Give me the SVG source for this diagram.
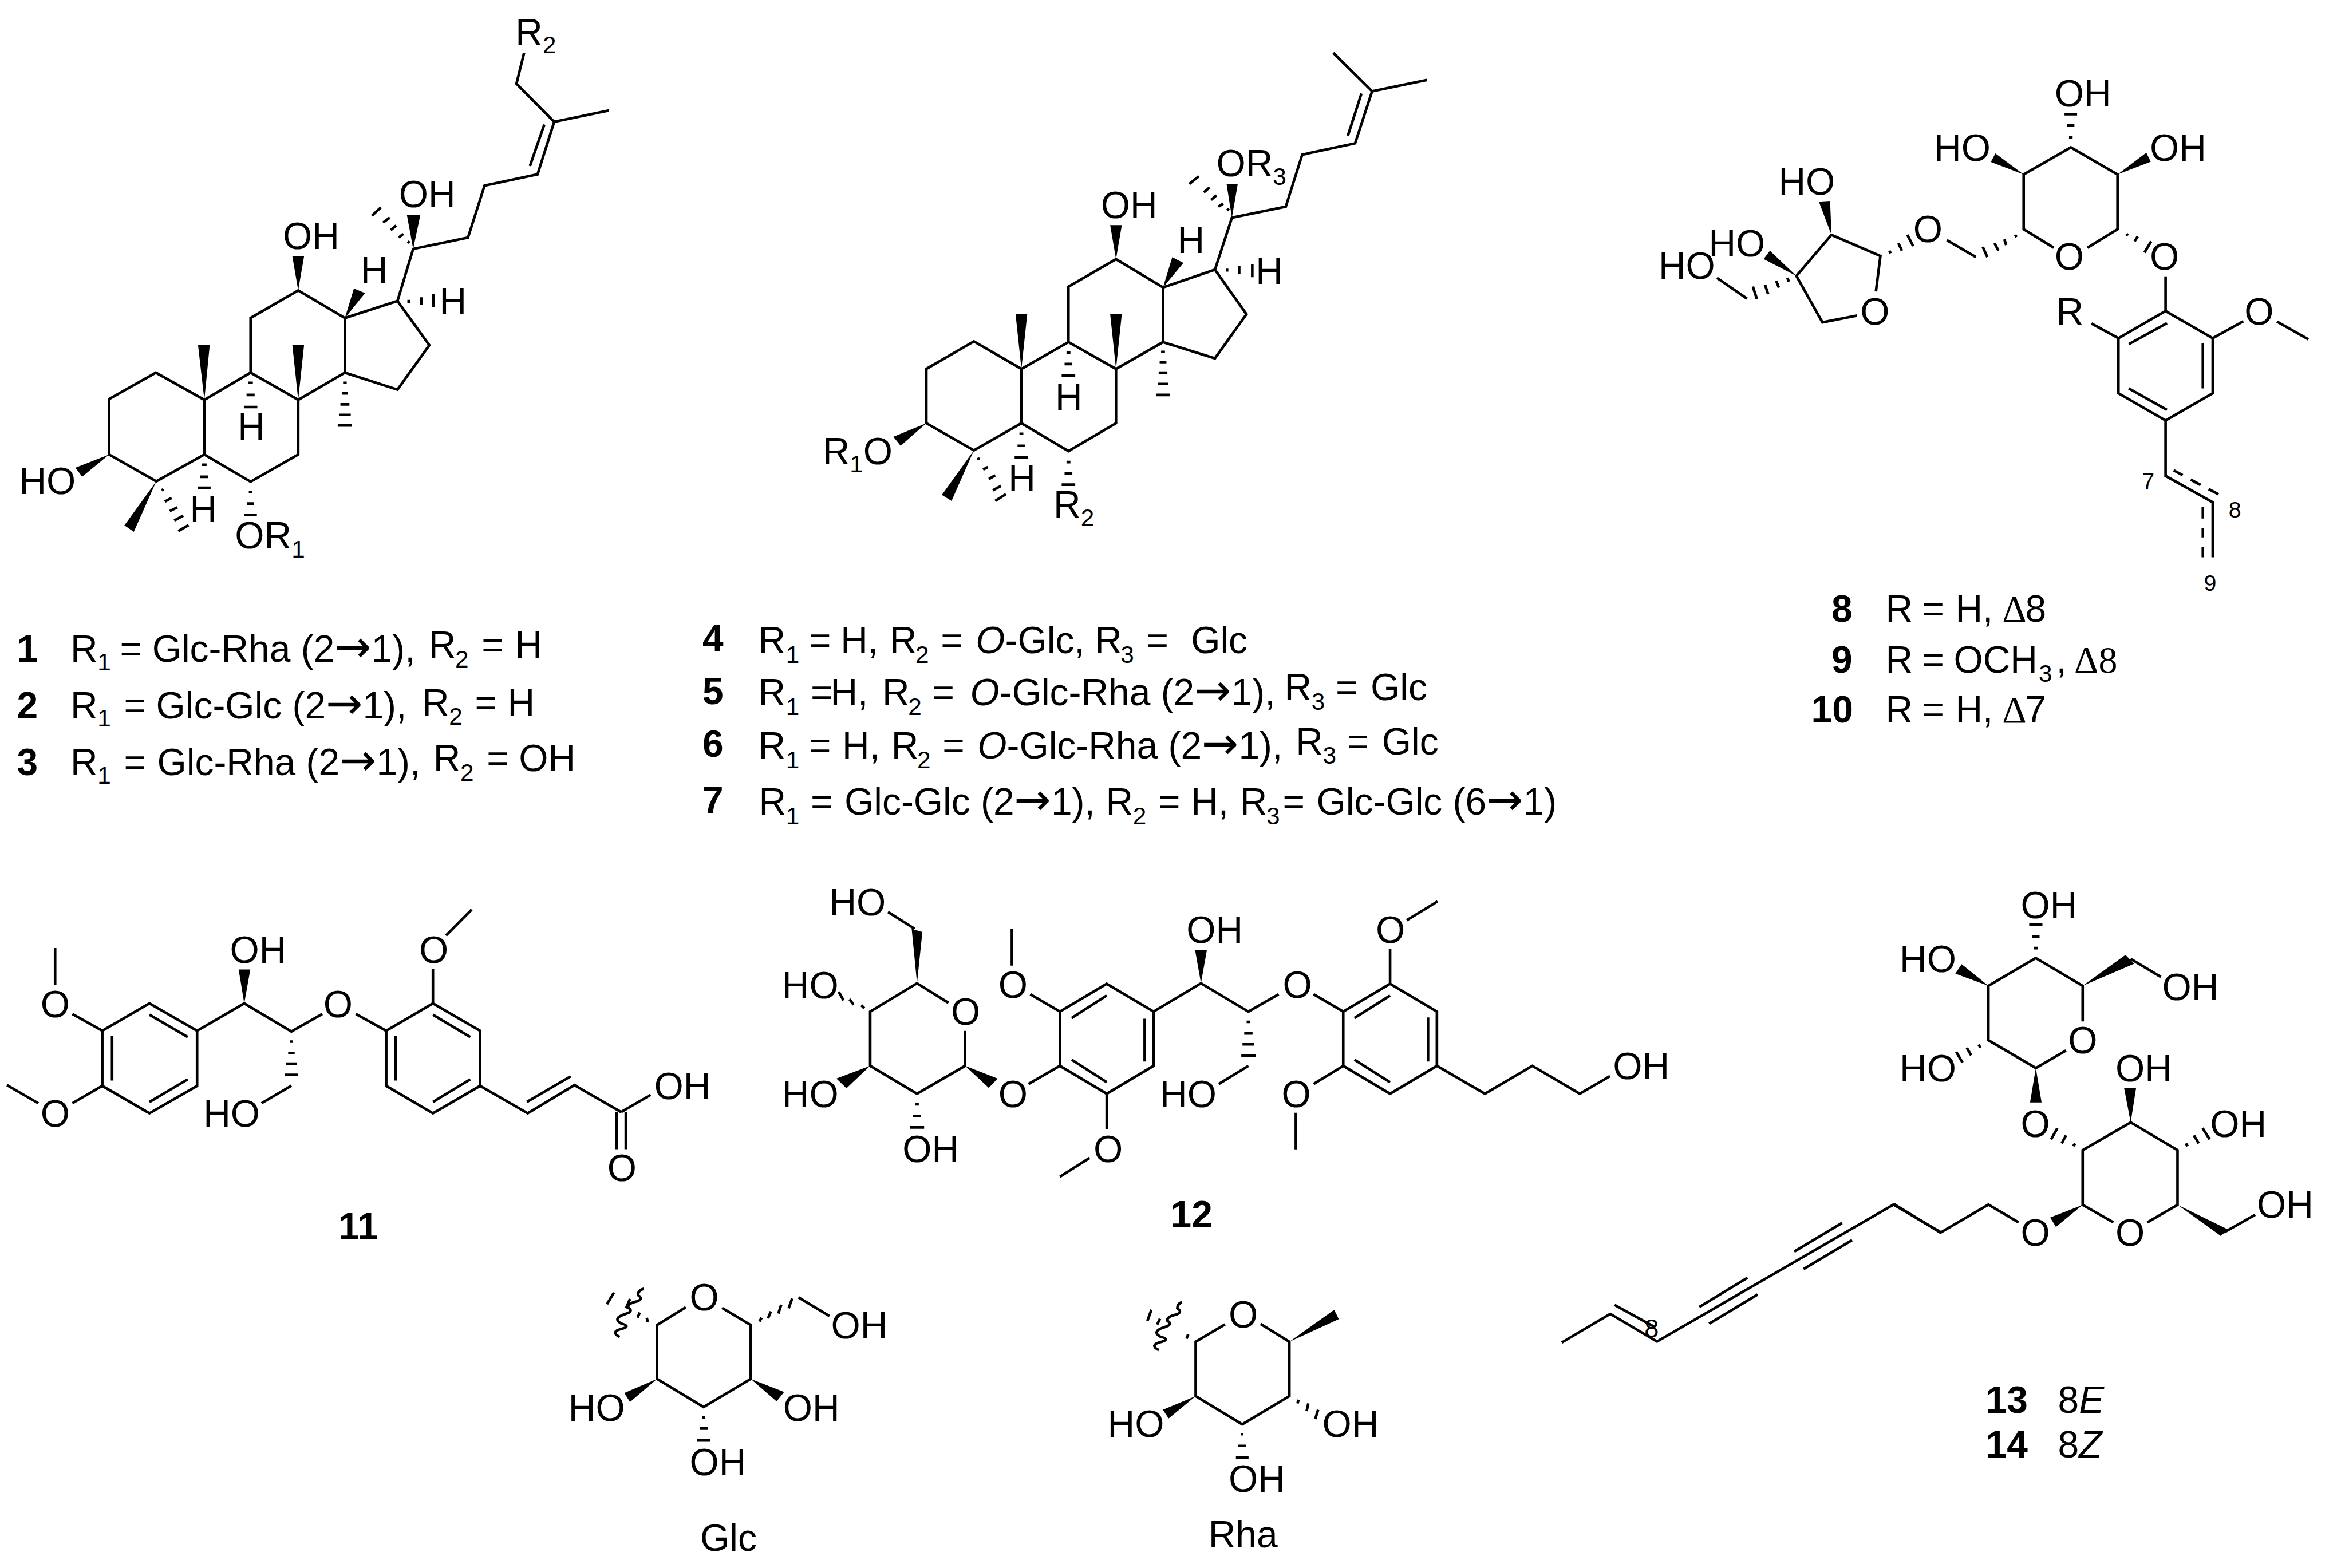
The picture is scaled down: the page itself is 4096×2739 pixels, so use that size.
<svg xmlns="http://www.w3.org/2000/svg" width="4096" height="2739" viewBox="0 0 4096 2739">
<style>
text{font-family:"Liberation Sans",Arial,sans-serif;font-size:67px;fill:#000}
.s{font-size:43px}
.n{font-size:40px}
.m{font-size:46px}
.b{font-weight:bold}
.i{font-style:italic}
.d{font-family:"Liberation Serif","Times New Roman",serif}
.a{font-family:"DejaVu Sans",sans-serif;font-size:78px}
path{fill:none;stroke:#000;stroke-width:4.6;vector-effect:non-scaling-stroke;stroke-linejoin:miter}
polygon{fill:#000;stroke:none}
</style>
<rect width="4096" height="2739" fill="#fff"/>
<g transform="scale(.984)">

<g id="compound-1-3">
<g transform="translate(0 0) scale(.7972 .6696)">
<path d="M243 1205V1058L347 988L455 1060V1205L348 1276ZM455 1205L558 1277L664 1205V1060L558 988L455 1060M558 988V843L664 770L768 843V988L664 1060M768 843L885 798L956 915L885 1033L768 988M885 798L920 660L1042 630L1079 492L1197 462L1234 323L1356 293M1180 440L1212 330M1234 323L1150 222L1167 140"/>
<polygon points="455,1060 441,915 467,915"/><polygon points="664,1060 651,915 677,915"/><polygon points="664,770 651,680 677,680"/><polygon points="768,843 788,765 813,777"/><polygon points="920,660 906,570 936,570"/><polygon points="243,1205 168,1240 183,1264"/><polygon points="348,1276 277,1393 298,1410"/>
<path d="M553 1015h10M549 1047h18M543 1079h30M764 1015h8M761 1043h14M758 1072h20M755 1100h26M752 1128h32M450 1232h10M446 1264h18M441 1293h28M554 1304h8M550 1335h16M544 1365h28M360 1300L364 1297M367 1330L382 1320M378 1355L395 1345M388 1380L408 1367M397 1408L420 1392M908 640L912 644M888 630L898 620M870 610L882 598M853 590L868 577M828 572L848 550M910 795V803M938 788V808M965 780V815"/>
</g>
<text x="915" y="80">R<tspan class="s" dy="15">2</tspan></text>
<text x="708" y="368">OH</text><text x="502" y="442">OH</text><text x="640" y="503">H</text><text x="780" y="558">H</text><text x="422" y="780">H</text><text x="34" y="877">HO</text><text x="337" y="927">H</text>
<text x="417" y="974">OR<tspan class="s" dy="16">1</tspan></text>
<text><tspan class="b" x="30" y="1175">1</tspan><tspan x="125">R</tspan><tspan class="s" x="173" y="1190">1</tspan><tspan x="213" y="1175">=</tspan><tspan x="270">Glc-Rha (2<tspan class="a">→</tspan>1),</tspan><tspan x="761" y="1168">R</tspan><tspan class="s" x="808" y="1185">2</tspan><tspan x="855" y="1168">=</tspan><tspan x="914">H</tspan></text>
<text><tspan class="b" x="30" y="1275">2</tspan><tspan x="125">R</tspan><tspan class="s" x="173" y="1290">1</tspan><tspan x="220" y="1275">=</tspan><tspan x="277">Glc-Glc (2<tspan class="a">→</tspan>1),</tspan><tspan x="749" y="1270">R</tspan><tspan class="s" x="797" y="1287">2</tspan><tspan x="843" y="1270">=</tspan><tspan x="901">H</tspan></text>
<text><tspan class="b" x="30" y="1376">3</tspan><tspan x="125">R</tspan><tspan class="s" x="173" y="1391">1</tspan><tspan x="220" y="1376">=</tspan><tspan x="279">Glc-Rha (2<tspan class="a">→</tspan>1),</tspan><tspan x="769" y="1369">R</tspan><tspan class="s" x="817" y="1386">2</tspan><tspan x="864" y="1369">=</tspan><tspan x="921">OH</tspan></text>
</g>

<g id="compound-4-7">
<g transform="translate(1250 0) scale(.861 .6696)">
<path d="M458 1122V978L556 905L654 978V1122L556 1194ZM654 1122L751 1196L849 1122V978L751 907L654 978M751 907V760L849 687L946 762V907L849 978M946 762L1053 715L1118 833L1053 950L946 907M1053 715L1088 577L1199 548L1233 410L1342 380L1377 242L1490 212M1327 360L1355 248M1377 242L1297 140"/>
<polygon points="654,978 642,833 666,833"/><polygon points="849,978 837,833 861,833"/><polygon points="849,687 837,597 861,597"/><polygon points="946,762 965,682 988,697"/><polygon points="1088,577 1077,488 1100,488"/><polygon points="458,1122 390,1158 405,1182"/><polygon points="556,1194 490,1312 510,1328"/>
<path d="M747 935h8M743 965h16M737 995h28M942 933h8M939 960h14M937 988h18M935 1018h22M932 1047h28M650 1150h8M646 1182h16M640 1213h28M747 1225h8M743 1255h16M737 1285h28M563 1218L568 1215M575 1245L585 1238M587 1270L600 1260M595 1300L612 1288M600 1328L622 1310M1078 558L1082 553M1060 548L1070 540M1045 530L1056 518M1030 510L1042 497M1000 488L1020 467M1078 712V720M1103 705V727M1130 700V735"/>
</g>
<text x="2159" y="313">OR<tspan class="s" dy="15">3</tspan></text>
<text x="1954" y="387">OH</text><text x="2090" y="449">H</text><text x="2229" y="504">H</text><text x="1873" y="728">H</text>
<text x="1460" y="824">R<tspan class="s" dy="14">1</tspan><tspan dy="-14">O</tspan></text>
<text x="1790" y="872">H</text>
<text x="1870" y="919">R<tspan class="s" dy="15">2</tspan></text>
<text><tspan class="b" x="1247" y="1157">4</tspan><tspan x="1346" y="1160">R</tspan><tspan class="s" x="1395" y="1177">1</tspan><tspan x="1436" y="1160">=</tspan><tspan x="1492">H,</tspan><tspan x="1579">R</tspan><tspan class="s" x="1625" y="1177">2</tspan><tspan x="1670" y="1160">=</tspan><tspan class="i" x="1732">O</tspan><tspan>-Glc,</tspan><tspan x="1943">R</tspan><tspan class="s" x="1989" y="1177">3</tspan><tspan x="2035" y="1160">=</tspan><tspan x="2114">Glc</tspan></text>
<text><tspan class="b" x="1247" y="1250">5</tspan><tspan x="1346" y="1252">R</tspan><tspan class="s" x="1395" y="1269">1</tspan><tspan x="1439" y="1252">=</tspan><tspan x="1474">H,</tspan><tspan x="1566">R</tspan><tspan class="s" x="1612" y="1269">2</tspan><tspan x="1655" y="1252">=</tspan><tspan class="i" x="1722">O</tspan><tspan>-Glc-Rha (2<tspan class="a">→</tspan>1),</tspan><tspan x="2280" y="1243">R</tspan><tspan class="s" x="2328" y="1260">3</tspan><tspan x="2371" y="1243">=</tspan><tspan x="2433">Glc</tspan></text>
<text><tspan class="b" x="1247" y="1344">6</tspan><tspan x="1346" y="1347">R</tspan><tspan class="s" x="1395" y="1364">1</tspan><tspan x="1436" y="1347">=</tspan><tspan x="1495">H,</tspan><tspan x="1582">R</tspan><tspan class="s" x="1628" y="1364">2</tspan><tspan x="1673" y="1347">=</tspan><tspan class="i" x="1735">O</tspan><tspan>-Glc-Rha (2<tspan class="a">→</tspan>1),</tspan><tspan x="2300" y="1339">R</tspan><tspan class="s" x="2348" y="1356">3</tspan><tspan x="2391" y="1339">=</tspan><tspan x="2453">Glc</tspan></text>
<text><tspan class="b" x="1247" y="1443">7</tspan><tspan x="1347" y="1446">R</tspan><tspan class="s" x="1395" y="1463">1</tspan><tspan x="1439" y="1446">=</tspan><tspan x="1499">Glc-Glc (2<tspan class="a">→</tspan>1),</tspan><tspan x="1963">R</tspan><tspan class="s" x="2011" y="1463">2</tspan><tspan x="2056" y="1446">=</tspan><tspan x="2114">H,</tspan><tspan x="2201">R</tspan><tspan class="s" x="2248" y="1463">3</tspan><tspan x="2277" y="1446">=</tspan><tspan x="2337">Glc-Glc (6<tspan class="a">→</tspan>1)</tspan></text>
</g>

<g id="compound-8-10">
<g transform="translate(2850 50) scale(.7972 .6696)">
<path d="M1073 582L1140 533V388L1036 316L931 388V533L998 582M825 607L760 562M560 762L483 780L425 657L503 548L612 604L602 698M315 717L248 662M1247 658V750L1352 822V968L1247 1040L1142 968V822L1247 750M1165 838L1250 782M1330 835V955M1165 955L1250 1012M1142 822L1082 783M1352 822L1420 777M1495 778L1565 825M1247 1040V1187L1352 1257V1403M1265 1172L1285 1185M1303 1197L1325 1211M1343 1222L1365 1236M1330 1270V1300M1330 1325V1350M1330 1375V1403"/>
<polygon points="931,388 868,332 858,355"/><polygon points="1140,388 1204,330 1214,354"/><polygon points="503,548 475,460 500,458"/><polygon points="425,657 352,612 366,590"/>
<path d="M1032 290h8M1028 258h16M1022 228h28M1160 545L1163 550M1178 565L1185 552M1200 595L1215 565M912 548L915 554M888 560L892 575M866 570L875 590M840 580L850 607M632 590L635 597M652 570L660 590M672 548L685 578M405 662L408 672M380 670L386 688M355 680L362 705M328 685L337 718"/>
</g>
<text x="3647" y="189">OH</text><text x="3433" y="286">HO</text><text x="3816" y="286">OH</text><text x="3647" y="479">O</text><text x="3816" y="479">O</text><text x="3396" y="430">O</text><text x="3157" y="346">HO</text><text x="3033" y="455">HO</text><text x="2944" y="495">HO</text><text x="3302" y="576">O</text><text x="3650" y="576">R</text><text x="3984" y="576">O</text>
<text class="n" x="3802" y="868">7</text><text class="n" x="3956" y="919">8</text><text class="n" x="3912" y="1049">9</text>
<text><tspan class="b" x="3251" y="1104">8</tspan><tspan x="3347">R</tspan><tspan x="3412">=</tspan><tspan x="3471">H,</tspan><tspan class="d" x="3554">Δ</tspan><tspan x="3595">8</tspan></text>
<text><tspan class="b" x="3251" y="1194">9</tspan><tspan x="3347">R</tspan><tspan x="3412">=</tspan><tspan x="3468">OCH</tspan><tspan class="s" x="3619" y="1210">3</tspan><tspan x="3650" y="1194">,</tspan><tspan class="d" x="3682">Δ8</tspan></text>
<text><tspan class="b" x="3215" y="1283">10</tspan><tspan x="3347">R</tspan><tspan x="3412">=</tspan><tspan x="3471">H,</tspan><tspan class="d" x="3554">Δ</tspan><tspan x="3595">7</tspan></text>
</g>

<g id="compound-11">
<g transform="translate(0 1550) scale(.829 .4464)">
<path d="M320 518L422 627V846L320 955L219 846V627ZM320 563L402 652M402 820L320 910M240 648V825M422 627L523 518L624 630L690 560M624 845L560 915M219 627L155 560M118 445V298M219 846L155 915M82 915L15 843M927 518L1028 627V846L927 955L827 846V627ZM927 563L1007 652M1007 820L927 910M847 648V825M827 627L762 560M927 518V380M955 248L1010 145M1028 846L1130 955L1230 843L1330 950M1128 910L1222 808M1330 950L1393 882M1320 950V1098M1340 950V1098"/>
<polygon points="523,518 511,383 536,383"/>
<path d="M621 670h6M617 715h14M612 758h24M610 802h28"/>
</g>
<text x="72" y="1806">O</text><text x="72" y="2000">O</text><text x="408" y="1709">OH</text><text x="361" y="2000">HO</text><text x="574" y="1806">O</text><text x="744" y="1709">O</text><text x="1161" y="1951">OH</text><text x="1078" y="2097">O</text>
<text class="b" x="636" y="2200" text-anchor="middle">11</text>
</g>

<g id="compound-12">
<g transform="translate(1350 1520) scale(1.0523 .4337)">
<path d="M317 600L264 520L185 636V858L264 972L345 858V715M260 297L215 228M505 858L452 932M584 522L663 636V858L584 972L505 858V636ZM584 570L525 662M648 665V840M525 833L584 925M505 636L455 565M424 448V297M584 972V1118M555 1235L505 1312M663 636L743 520L823 636L874 565M823 858L773 932M1062 522L1141 636V858L1062 972L983 858V636ZM1062 570L1002 662M1126 660V840M1002 833L1062 925M983 636L933 565M1062 522V380M1090 262L1142 185M983 858L933 932M903 1050V1200M1141 858L1222 972L1302 858L1382 972L1433 900"/>
<polygon points="264,520 255,297 273,310"/><polygon points="185,858 128,910 145,950"/><polygon points="345,858 400,910 385,948"/><polygon points="743,520 733,383 753,383"/>
<path d="M170 610L175 622M150 585L157 608M132 555L140 590M261 1015h6M257 1063h14M252 1110h24M820 678h6M816 725h14M813 770h20M811 817h24"/>
</g>
<text x="1472" y="1625">HO</text><text x="1388" y="1772">HO</text><text x="1688" y="1819">O</text><text x="1772" y="1771">O</text><text x="2106" y="1674">OH</text><text x="2277" y="1771">O</text><text x="2442" y="1674">O</text><text x="2863" y="1916">OH</text><text x="1388" y="1965">HO</text><text x="1772" y="1965">O</text><text x="2059" y="1965">HO</text><text x="2275" y="1965">O</text><text x="1602" y="2063">OH</text><text x="1941" y="2063">O</text>
<text class="b" x="2115" y="2179" text-anchor="middle">12</text>
</g>

<g id="compound-13-14">
<g transform="translate(3300 1530) scale(.5102 .4783)">
<path d="M720 700L615 765L450 662V460L615 357L778 460V592M945 360L1050 427M885 1338L778 1273V1070L945 967L1108 1070V1273L1003 1338M1270 1375L1378 1310M555 1338L450 1272L285 1375L120 1272"/>
<polygon points="450,460 335,415 357,380"/><polygon points="778,460 927,345 957,378"/><polygon points="615,765 595,893 635,893"/><polygon points="945,967 922,838 964,838"/><polygon points="778,1273 665,1320 685,1355"/><polygon points="1108,1273 1285,1365 1258,1388"/>
<path d="M608 320h14M602 278h26M592 233h46M416 678L422 690M375 690L390 718M338 705L360 745M745 1055L752 1045M705 1045L720 1015M668 1030L690 988M1137 1045L1143 1055M1165 1015L1182 1045M1195 988L1220 1030"/>
</g>
<g transform="translate(2750 2050) scale(.6378 .3508)">
<path d="M35 950L170 805L300 945L960 250M182 760L292 870M418 770L552 622M445 855L580 707M682 490L815 345M708 578L843 432"/>
<path d="M960 250L1090 395"/>
</g>
<text x="3587" y="1630">OH</text><text x="3372" y="1726">HO</text><text x="3838" y="1775">OH</text><text x="3671" y="1870">O</text><text x="3372" y="1920">HO</text><text x="3755" y="1920">OH</text><text x="3587" y="2018">O</text><text x="3923" y="2018">OH</text><text x="4006" y="2162">OH</text><text x="3587" y="2211">O</text><text x="3755" y="2211">O</text>
<text class="m" x="2919" y="2374">8</text>
<text><tspan class="b" x="3525" y="2508">13</tspan><tspan x="3653">8</tspan><tspan class="i">E</tspan></text>
<text><tspan class="b" x="3525" y="2587">14</tspan><tspan x="3653">8</tspan><tspan class="i">Z</tspan></text>
</g>

<g id="glc">
<g transform="translate(950 2200) scale(1.0204 .3712)">
<path d="M262 325L212 410V668L293 802L375 668V410L325 328M458 278L512 367M147 467q-18 -25 5 -40q15 -12 -3 -25q-15 -25 8 -45q15 -12 5 -30q-2 -20 15 -30q12 -12 2 -30q0 -25 10 -30"/>
<polygon points="212,668 155,735 165,778"/><polygon points="375,668 433,730 420,775"/>
<path d="M390 393L394 375M405 378L410 345M423 355L428 313M441 330L447 283M196 395L194 375M178 375L182 350M158 330L165 285M125 310L137 255M291 852h4M286 905h14M282 962h22"/>
</g>
<text x="1224" y="2326">O</text><text x="1475" y="2376">OH</text><text x="1009" y="2522">HO</text><text x="1390" y="2522">OH</text><text x="1224" y="2619">OH</text>
<text x="1243" y="2753">Glc</text>
</g>

<g id="rha">
<g transform="translate(950 2200) scale(1.0204 .3712)">
<path d="M1200 407L1149 490V750L1230 885L1312 750V490L1262 405M1085 530q-18 -25 5 -40q15 -12 -3 -25q-15 -25 8 -45q15 -12 5 -30q-2 -20 15 -30q12 -12 2 -30q0 -20 8 -30"/>
<polygon points="1312,490 1390,337 1398,382"/><polygon points="1149,750 1092,815 1102,857"/>
<path d="M1133 475L1136 455M1082 408L1087 380M1065 390L1072 337M1328 768L1326 785M1345 785L1342 822M1362 815L1357 860M1228 932h4M1223 988h14M1219 1043h22"/>
</g>
<text x="2181" y="2357">O</text><text x="1966" y="2551">HO</text><text x="2347" y="2551">OH</text><text x="2181" y="2648">OH</text>
<text x="2145" y="2747">Rha</text>
</g>

</g>
</svg>
